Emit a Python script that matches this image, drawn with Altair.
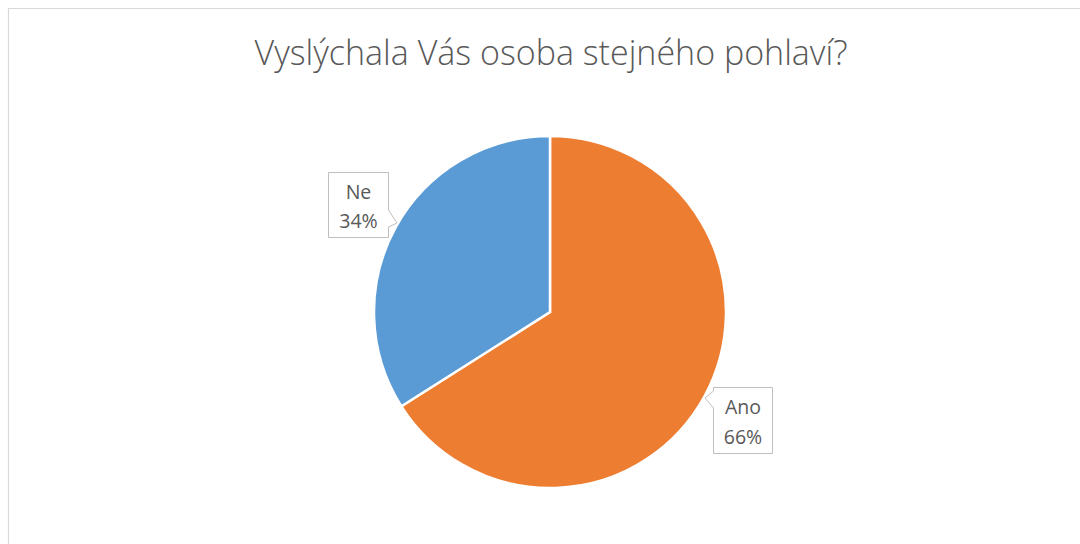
import altair as alt
import pandas as pd

# ---- data ----
categories = ["Ano", "Ne"]
values = [66, 34]
colors = ["#ED7D31", "#5B9BD5"]
title_text = "Vyslýchala Vás osoba stejného pohlaví?"

pie_df = pd.DataFrame({"kategorie": categories, "hodnota": values, "poradi": [0, 1]})
pie_df["procenta"] = pie_df["hodnota"].astype(str) + "%"

one = alt.Data(values=[{"a": 1}])

CX, CY, R = 550, 312, 176
TXT = "#595959"
BOX = "#BFBFBF"
FONT = "Open Sans"

border = alt.Chart(one).mark_rect(filled=False, stroke="#D9D9D9", strokeWidth=1.2).encode(
    x=alt.value(8.5), x2=alt.value(1100), y=alt.value(8.5), y2=alt.value(600)
)

title = alt.Chart(one).mark_text(
    font=FONT, fontSize=34, fontWeight=300, color=TXT, align="center", baseline="alphabetic"
).encode(x=alt.value(551), y=alt.value(65), text=alt.value(title_text))

pie = alt.Chart(pie_df).mark_arc(outerRadius=R, stroke="white", strokeWidth=2.5).encode(
    theta=alt.Theta("hodnota:Q", stack=True),
    color=alt.Color("kategorie:N", scale=alt.Scale(domain=categories, range=colors), legend=None),
    order=alt.Order("poradi:Q"),
    x=alt.value(CX),
    y=alt.value(CY),
)


def callout(cat, x0, y0, x1, y1, b1, tip, b2):
    box = alt.Chart(one).mark_rect(fill="white", stroke=BOX, strokeWidth=1).encode(
        x=alt.value(x0), x2=alt.value(x1), y=alt.value(y0), y2=alt.value(y1)
    )
    gap = alt.Chart(one).mark_rule(color="white", strokeWidth=2).encode(
        x=alt.value(b1[0]), y=alt.value(b1[1]), x2=alt.value(b2[0]), y2=alt.value(b2[1])
    )
    s1 = alt.Chart(one).mark_rule(color=BOX, strokeWidth=1).encode(
        x=alt.value(b1[0]), y=alt.value(b1[1]), x2=alt.value(tip[0]), y2=alt.value(tip[1])
    )
    s2 = alt.Chart(one).mark_rule(color=BOX, strokeWidth=1).encode(
        x=alt.value(tip[0]), y=alt.value(tip[1]), x2=alt.value(b2[0]), y2=alt.value(b2[1])
    )
    cxm = (x0 + x1) / 2
    cym = (y0 + y1) / 2
    base = alt.Chart(pie_df).transform_filter(alt.datum.kategorie == cat)
    t1 = base.mark_text(font=FONT, fontSize=19.5, color=TXT, baseline="middle").encode(
        text="kategorie:N", x=alt.value(cxm), y=alt.value(cym - 12.5)
    )
    t2 = base.mark_text(font=FONT, fontSize=19.5, color=TXT, baseline="middle").encode(
        text="procenta:N", x=alt.value(cxm), y=alt.value(cym + 17)
    )
    return [box, gap, s1, s2, t1, t2]


ne = callout("Ne", 328.5, 172.5, 388.5, 237.5, (388.5, 210), (397, 223), (388.5, 227))
ano = callout("Ano", 713.5, 387.5, 772.5, 453.5, (713.5, 391), (705, 398), (713.5, 408))

chart = alt.layer(border, title, pie, *ne, *ano).properties(
    width=1080, height=544, autosize="none", padding=0, background="white"
).configure_view(stroke=None)

chart.save("out.html", embed_options={"renderer": "svg", "actions": False})
